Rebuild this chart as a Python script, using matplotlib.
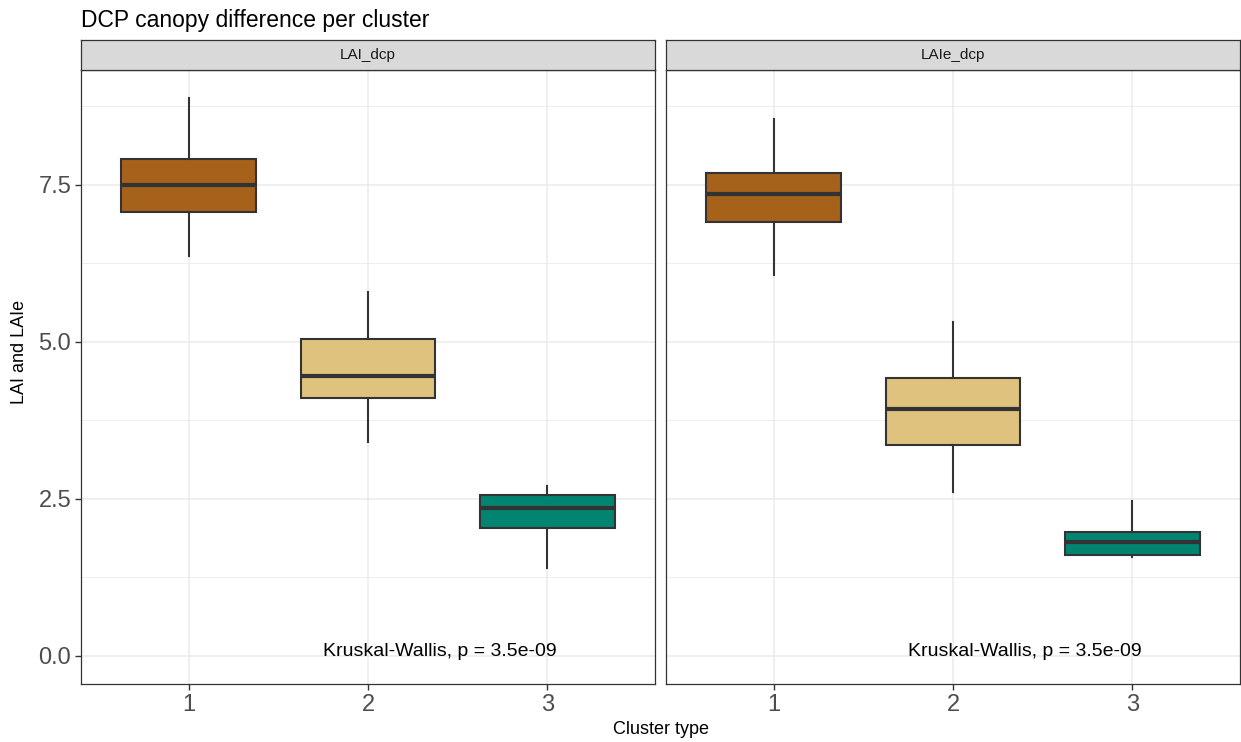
import matplotlib.pyplot as plt

plt.rcParams['font.family'] = ['Liberation Sans', 'DejaVu Sans']

# box stats: whisker low, q1, median, q3, whisker high
panels = ["LAI_dcp", "LAIe_dcp"]
clusters = ["1", "2", "3"]
whislo = [[6.37, 3.40, 1.40], [6.06, 2.61, 1.57]]
q1 = [[7.07, 4.10, 2.04], [6.91, 3.36, 1.60]]
med = [[7.50, 4.46, 2.35], [7.35, 3.94, 1.82]]
q3 = [[7.92, 5.04, 2.56], [7.69, 4.42, 1.97]]
whishi = [[8.88, 5.80, 2.70], [8.55, 5.32, 2.46]]
colors = ["#A6611A", "#DFC27D", "#018571"]
pvalue_label = "Kruskal-Wallis, p = 3.5e-09"

fig = plt.figure(figsize=(12.41, 7.42), dpi=100)

left0 = 81 / 1241
width = 574 / 1241
gap = 11 / 1241
bottom = 1 - 684 / 742
height = (684 - 70) / 742
strip_h = 30 / 742

for p in range(2):
    left = left0 + p * (width + gap)
    ax = fig.add_axes([left, bottom, width, height])
    stats = []
    for i in range(3):
        stats.append({
            "whislo": whislo[p][i], "q1": q1[p][i], "med": med[p][i],
            "q3": q3[p][i], "whishi": whishi[p][i], "fliers": [],
        })
    bp = ax.bxp(stats, positions=[1, 2, 3], widths=0.75, patch_artist=True,
                showcaps=False, showfliers=False,
                boxprops=dict(edgecolor="#333333", linewidth=1.5),
                whiskerprops=dict(color="#333333", linewidth=1.5),
                medianprops=dict(color="#333333", linewidth=3))
    for patch, c in zip(bp["boxes"], colors):
        patch.set_facecolor(c)
    for artist in bp["boxes"] + bp["whiskers"] + bp["medians"]:
        artist.set_zorder(3)

    ax.set_xlim(0.4, 3.6)
    ax.set_ylim(-0.446, 9.33)
    ax.set_xticks([1, 2, 3])
    ax.set_xticklabels(clusters)
    ax.set_yticks([0, 2.5, 5.0, 7.5])
    ax.set_yticklabels(["0.0", "2.5", "5.0", "7.5"])
    ax.set_yticks([1.25, 3.75, 6.25, 8.75], minor=True)
    ax.grid(True, which="major", color="#EBEBEB", linewidth=1.1, zorder=0)
    ax.grid(True, which="minor", axis="y", color="#EBEBEB", linewidth=0.6, zorder=0)
    ax.set_axisbelow(True)
    ax.tick_params(axis="both", which="major", colors="#333333", length=4,
                   width=1, labelsize=17, labelcolor="#4D4D4D", pad=3)
    ax.tick_params(axis="y", which="minor", length=0)
    if p == 1:
        ax.tick_params(axis="y", which="major", length=0, labelleft=False)
    for s in ax.spines.values():
        s.set_color("#333333")
        s.set_linewidth(0.9)

    ax.text(2.4, 0, pvalue_label, ha="center", va="baseline", fontsize=14,
            color="black", zorder=4)

    strip = fig.add_axes([left, bottom + height, width, strip_h])
    strip.set_facecolor("#D9D9D9")
    strip.set_xticks([])
    strip.set_yticks([])
    for s in strip.spines.values():
        s.set_color("#333333")
        s.set_linewidth(0.9)
    strip.text(0.5, 0.5, panels[p], ha="center", va="center", fontsize=11,
               color="#1A1A1A", transform=strip.transAxes)

fig.text(81 / 1241, 1 - 20 / 742, "DCP canopy difference per cluster",
         ha="left", va="center", fontsize=16.5, color="black")
fig.text(661 / 1241, 1 - 730 / 742, "Cluster type", ha="center", va="center",
         fontsize=13, color="black")
fig.text(20 / 1241, 1 - 352 / 742, "LAI and LAIe", ha="center", va="center",
         rotation=90, fontsize=13, color="black")

fig.savefig("out.png", dpi=100)
